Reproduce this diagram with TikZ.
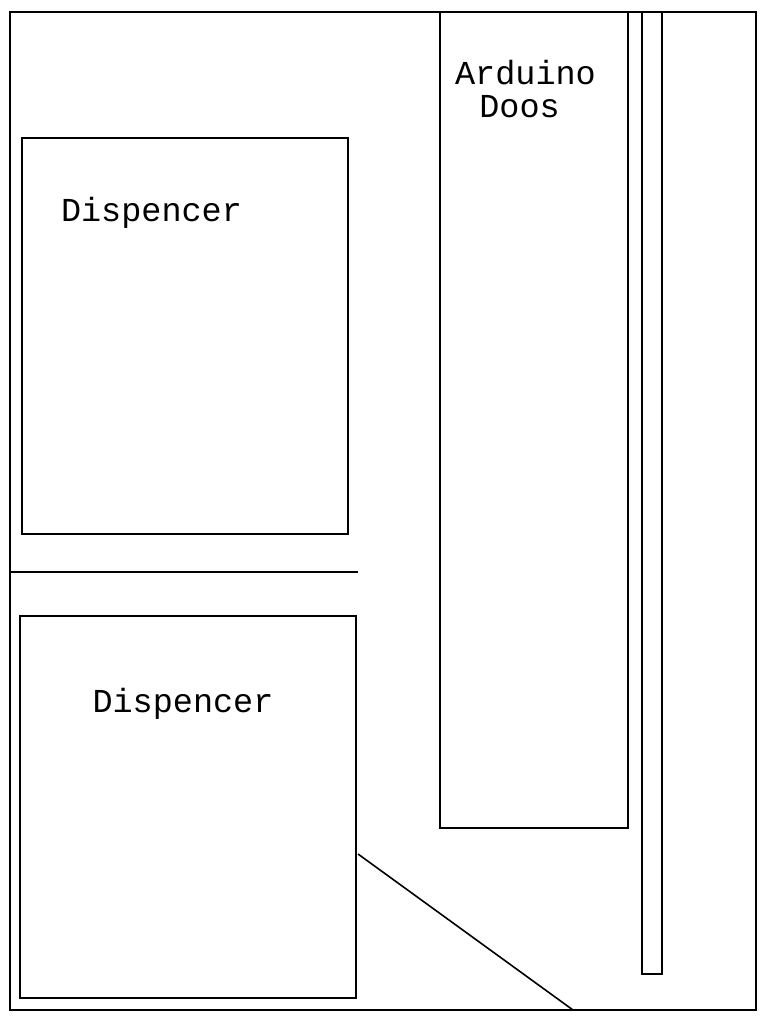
\documentclass[tikz,border=0pt]{standalone}
\usepackage{fontspec}
\setmonofont{Liberation Mono}
\begin{document}
\begin{tikzpicture}[x=1pt,y=-1pt,
  wall/.style={draw=black,line width=2pt},
  lbl/.style={inner sep=0pt,anchor=base,font=\ttfamily\fontsize{33.5}{36}\selectfont}]
\useasboundingbox[fill=white] (0,0) rectangle (768,1024);
% outer frame
\draw[wall] (10,12) rectangle (756,1010);
% top dispenser
\draw[wall] (22,138) rectangle (348,534);
\node[lbl] (d1) at (151.5,222) {Dispencer};
% divider
\draw[wall] (10,572) -- (358,572);
% bottom dispenser
\draw[wall] (20,616) rectangle (356,998);
\node[lbl] (d2) at (183,712) {Dispencer};
% arduino box
\draw[wall] (440,12) -- (440,828) -- (628,828) -- (628,12);
\node[lbl] (a1) at (525.5,85) {Arduino};
\node[lbl] (a2) at (519.5,118) {Doos};
% thin bar
\draw[wall] (642,12) -- (642,974) -- (662,974) -- (662,12);
% diagonal
\draw[wall,line width=1.6pt] (358,854) -- (573,1010);
\end{tikzpicture}
\end{document}
